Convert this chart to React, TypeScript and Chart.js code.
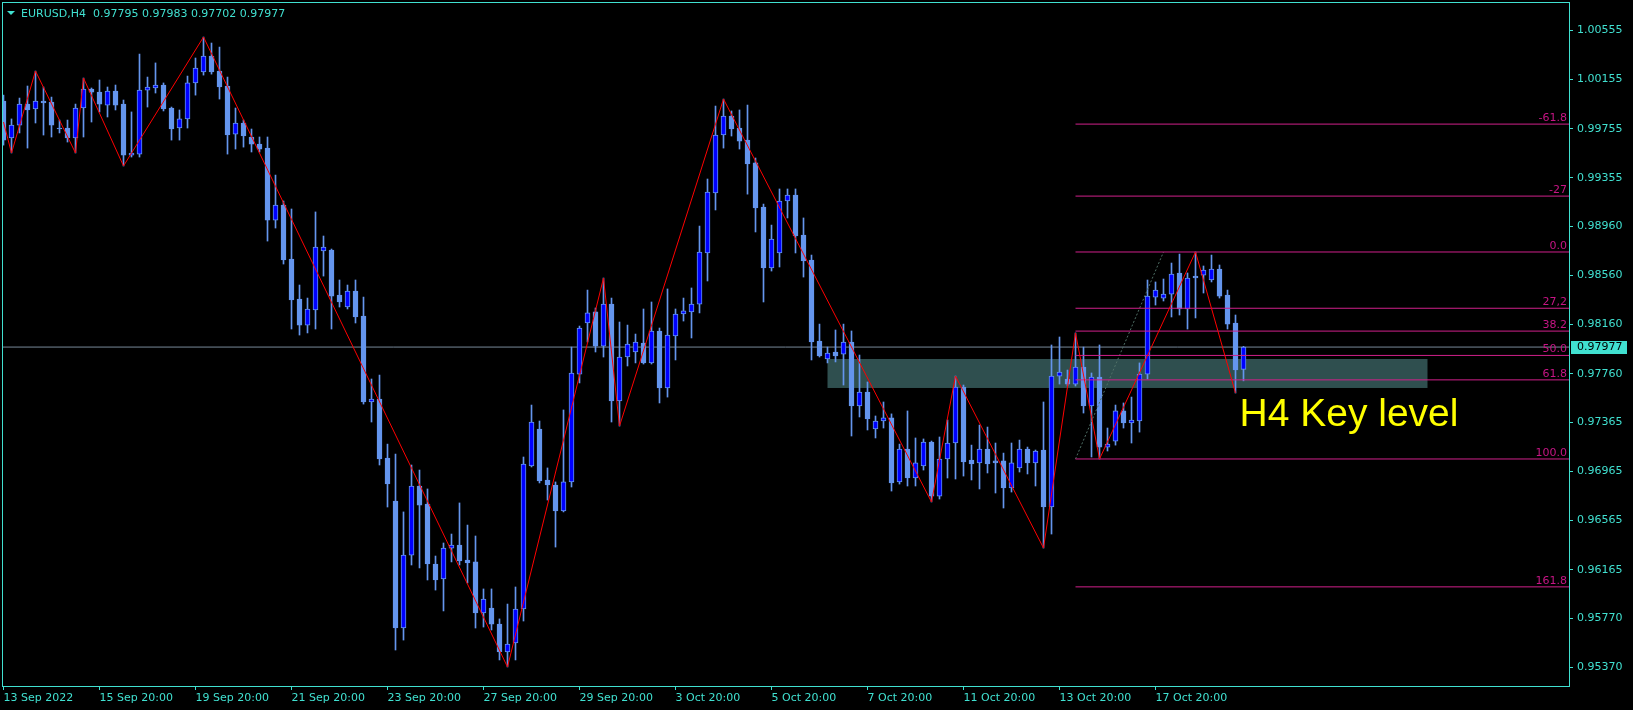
import React, { useEffect, useRef } from "react";
import { Chart, registerables } from "chart.js";
Chart.register(...registerables);

const W = 1633;
const H = 710;

// OHLC, one entry per H4 bar (bar index = position in array)
const opens = [
  0.9998, 0.99679, 0.99784, 0.99955, 0.99915, 0.9998, 0.99972, 0.9976, 0.9976, 0.99679,
  0.99923, 1.00078, 1.00053, 0.99947, 1.00061, 0.99955, 0.9954, 0.99548, 1.00069, 1.00086,
  1.0011, 0.99923, 0.9976, 0.99834, 1.00127, 1.00216, 1.00346, 1.00224, 1.00102, 0.99711,
  0.99801, 0.99687, 0.99629, 0.99597, 0.99011, 0.99133, 0.98694, 0.98368, 0.98156, 0.98279,
  0.98759, 0.98767, 0.984, 0.98303, 0.98433, 0.9823, 0.9753, 0.97554, 0.97074, 0.96724,
  0.9569, 0.96284, 0.96846, 0.96699, 0.96211, 0.96089, 0.96341, 0.96365, 0.96244, 0.96228,
  0.95813, 0.95853, 0.95722, 0.95495, 0.95568, 0.95845, 0.97009, 0.9731, 0.96895, 0.96854,
  0.96643, 0.96879, 0.97757, 0.98173, 0.98263, 0.97985, 0.98327, 0.97538, 0.97896, 0.97937,
  0.9801, 0.97848, 0.98108, 0.97644, 0.98067, 0.98246, 0.98263, 0.98327, 0.98743, 0.99231,
  0.99703, 0.99858, 0.9976, 0.99662, 0.99476, 0.99117, 0.98621, 0.98743, 0.99166, 0.99214,
  0.98889, 0.98686, 0.98026, 0.9788, 0.97937, 0.9792, 0.98018, 0.97497, 0.97611, 0.9731,
  0.97375, 0.974, 0.96879, 0.97147, 0.96911, 0.97009, 0.97204, 0.96764, 0.97066, 0.97196,
  0.97652, 0.97058, 0.97034, 0.97147, 0.9705, 0.9705, 0.9683, 0.96993, 0.97147, 0.97034,
  0.97139, 0.96675, 0.97741, 0.97717, 0.97676, 0.97815, 0.97497, 0.97733, 0.97163, 0.97212,
  0.97457, 0.97359, 0.97375, 0.97757, 0.98384, 0.98376, 0.98408, 0.9858, 0.98287, 0.98555,
  0.98563, 0.98523, 0.98612, 0.984, 0.98173, 0.97795,
];
const highs = [
  1.00028, 0.99834, 1.00004, 1.00102, 1.00224, 1.00094, 1.00012, 0.99825, 0.99825, 0.99955,
  1.00167, 1.00086, 1.00151, 1.00094, 1.0011, 0.99988, 0.99891, 1.00362, 1.00175, 1.0029,
  1.00127, 0.99931, 0.99907, 1.00183, 1.0033, 1.00501, 1.00452, 1.00419, 1.00175, 0.99923,
  0.99825, 0.99752, 0.99687, 0.99687, 0.99377, 0.99166, 0.99101, 0.98482, 0.98376, 0.99077,
  0.98881, 0.98775, 0.98523, 0.98482, 0.98523, 0.98384, 0.97717, 0.97749, 0.97187, 0.97106,
  0.96635, 0.97017, 0.96976, 0.96822, 0.96276, 0.96382, 0.96455, 0.96708, 0.96528, 0.96439,
  0.96008, 0.96008, 0.95764, 0.95885, 0.96024, 0.97082, 0.97505, 0.97375, 0.96993, 0.96879,
  0.97465, 0.97977, 0.98148, 0.98441, 0.98295, 0.98539, 0.98376, 0.98181, 0.98156, 0.98083,
  0.98287, 0.98344, 0.98132, 0.9845, 0.98287, 0.98376, 0.98458, 0.98962, 0.99345, 0.99939,
  0.99996, 0.99899, 0.99907, 0.99947, 0.99516, 0.99141, 0.9897, 0.99264, 0.99264, 0.99264,
  0.99028, 0.98726, 0.98164, 0.97977, 0.98116, 0.98164, 0.98108, 0.97912, 0.97693, 0.97416,
  0.9753, 0.97433, 0.97187, 0.97457, 0.97237, 0.97229, 0.97212, 0.97245, 0.97383, 0.97741,
  0.97668, 0.97179, 0.97342, 0.97326, 0.97196, 0.97114, 0.97196, 0.9722, 0.97163, 0.97139,
  0.9753, 0.97994, 0.98059, 0.9779, 0.98092, 0.97977, 0.97766, 0.97994, 0.97318, 0.97505,
  0.97522, 0.9757, 0.97848, 0.98523, 0.98507, 0.98531, 0.98661, 0.98734, 0.9858, 0.98751,
  0.98637, 0.98726, 0.98645, 0.98441, 0.98238, 0.97983,
];
const lows = [
  0.99621, 0.99557, 0.9972, 0.99597, 0.99801, 0.99703, 0.99687, 0.9972, 0.99646, 0.99557,
  0.99687, 0.99809, 0.99891, 0.9985, 0.99907, 0.99451, 0.99524, 0.99524, 0.99931, 1.00045,
  0.99899, 0.99662, 0.99662, 0.9976, 1.00028, 1.00191, 1.00199, 0.99996, 0.99548, 0.99589,
  0.99605, 0.99565, 0.99565, 0.9884, 0.98946, 0.98653, 0.98124, 0.98075, 0.98092, 0.98124,
  0.98555, 0.98124, 0.98303, 0.98287, 0.98173, 0.97513, 0.97367, 0.97017, 0.96675, 0.95511,
  0.95592, 0.96203, 0.96179, 0.96081, 0.95999, 0.95829, 0.96228, 0.96203, 0.96057, 0.9569,
  0.95698, 0.95674, 0.9543, 0.95373, 0.9543, 0.95747, 0.97001, 0.96871, 0.96732, 0.96349,
  0.96635, 0.96838, 0.97685, 0.98018, 0.97937, 0.97896, 0.97367, 0.97334, 0.97823, 0.97848,
  0.97839, 0.97839, 0.97522, 0.9757, 0.97872, 0.98189, 0.98051, 0.98255, 0.98515, 0.99093,
  0.99597, 0.99695, 0.99589, 0.99222, 0.98914, 0.98344, 0.98596, 0.98629, 0.99028, 0.98743,
  0.98547, 0.97872, 0.97896, 0.97848, 0.97856, 0.97668, 0.97253, 0.97408, 0.97302, 0.97237,
  0.97318, 0.96805, 0.96862, 0.96846, 0.96846, 0.96976, 0.96716, 0.9674, 0.96911, 0.96903,
  0.96927, 0.96895, 0.96822, 0.96952, 0.96789, 0.96667, 0.96797, 0.9696, 0.96944, 0.96846,
  0.96341, 0.96455, 0.97676, 0.9766, 0.9766, 0.9744, 0.97082, 0.97066, 0.97131, 0.97179,
  0.97318, 0.97196, 0.97285, 0.97717, 0.98319, 0.98352, 0.98222, 0.98238, 0.98124, 0.98214,
  0.98417, 0.98507, 0.98376, 0.98124, 0.97603, 0.97702,
];
const closes = [
  0.99662, 0.99784, 0.99955, 0.99907, 0.9998, 0.99964, 0.99784, 0.99752, 0.99679, 0.99923,
  1.00078, 1.00053, 0.99955, 1.00061, 0.99947, 0.9954, 0.99557, 1.00069, 1.00094, 1.0011,
  0.99915, 0.99752, 0.99834, 1.00127, 1.00249, 1.00346, 1.00216, 1.00094, 0.99703, 0.99801,
  0.99695, 0.99629, 0.99589, 0.99011, 0.99133, 0.98686, 0.9836, 0.98156, 0.98287, 0.98791,
  0.98791, 0.98392, 0.98344, 0.98433, 0.98222, 0.9753, 0.97554, 0.97066, 0.96862, 0.9569,
  0.96284, 0.96846, 0.96691, 0.96211, 0.96081, 0.96341, 0.96365, 0.96236, 0.9622, 0.95813,
  0.95926, 0.95722, 0.95495, 0.95559, 0.95845, 0.97025, 0.97367, 0.96887, 0.96854, 0.96643,
  0.96879, 0.97766, 0.98132, 0.98255, 0.97985, 0.98327, 0.97538, 0.97896, 0.98001, 0.98018,
  0.97848, 0.98108, 0.97644, 0.98075, 0.98246, 0.98271, 0.98327, 0.98751, 0.99239, 0.99703,
  0.99858, 0.99752, 0.99654, 0.99467, 0.99109, 0.98621, 0.98857, 0.99166, 0.99214, 0.98881,
  0.98678, 0.98018, 0.97904, 0.97929, 0.97904, 0.98018, 0.97497, 0.97611, 0.97392, 0.97375,
  0.974, 0.96871, 0.97147, 0.96911, 0.97034, 0.97204, 0.96764, 0.97066, 0.97196, 0.97652,
  0.97042, 0.97025, 0.97147, 0.97025, 0.97034, 0.9683, 0.97034, 0.97147, 0.97034, 0.97131,
  0.96675, 0.97741, 0.97774, 0.97676, 0.97815, 0.97497, 0.97733, 0.97163, 0.97187, 0.97457,
  0.97359, 0.97383, 0.97757, 0.98392, 0.98441, 0.98408, 0.98571, 0.98287, 0.98539, 0.98539,
  0.98604, 0.98612, 0.98392, 0.98164, 0.9779, 0.97977,
];

// ZigZag indicator vertices
const zigzagIndex = [0, 1, 4, 9, 10, 15, 25, 63, 75, 77, 90, 116, 119, 130, 134, 137, 149, 154];
const zigzagPrice = [
  0.99809, 0.99557, 1.00224, 0.99557, 1.00167, 0.99451, 1.00501, 0.95373, 0.98539, 0.97334,
  0.99996, 0.96716, 0.97741, 0.96341, 0.98092, 0.97066, 0.98751, 0.97603,
];

// Fibonacci levels
const fibLabels = ["-61.8", "-27", "0.0", "27,2", "38.2", "50.0", "61.8", "100.0", "161.8"];
const fibPrices = [0.99792, 0.99206, 0.98751, 0.98293, 0.98107, 0.97909, 0.9771, 0.97066, 0.96025];
const fibStartIndex = 134;
const fibDiagIndex = [134, 145];
const fibDiagPrice = [0.97066, 0.98751];

// Key level zone
const keyZoneIndex = [103, 178];
const keyZonePrice = [0.9788, 0.97644];
const keyText = "H4 Key level";
const keyTextPos = [154.5, 0.97334];

// Axes
const xTickIndex = [0, 12, 24, 36, 48, 60, 72, 84, 96, 108, 120, 132, 144];
const xTickLabels = [
  "13 Sep 2022", "15 Sep 20:00", "19 Sep 20:00", "21 Sep 20:00", "23 Sep 20:00",
  "27 Sep 20:00", "29 Sep 20:00", "3 Oct 20:00", "5 Oct 20:00", "7 Oct 20:00",
  "11 Oct 20:00", "13 Oct 20:00", "17 Oct 20:00",
];
const yTickValues = [
  1.00555, 1.00155, 0.99755, 0.99355, 0.9896, 0.9856, 0.9816, 0.9776, 0.97365, 0.96965,
  0.96565, 0.96165, 0.9577, 0.9537,
];
const yTickLabels = [
  "1.00555", "1.00155", "0.99755", "0.99355", "0.98960", "0.98560", "0.98160", "0.97760",
  "0.97365", "0.96965", "0.96565", "0.96165", "0.95770", "0.95370",
];
const xRange = [-0.1875, 195.6875];
const yRange = [0.95218, 1.00786];

const bidPrice = 0.97977;
const bidLabel = "0.97977";
const headerText = "EURUSD,H4  0.97795 0.97983 0.97702 0.97977";

const AXIS = "#40E0D0";
const WICK = "#6495ED";
const UP_FILL = "#0000FF";
const FIB_LINE = "#D0208A";
const FIB_TEXT = "#C71585";
const SMALL_FONT = '11px "DejaVu Sans", sans-serif';

const bgPlugin = {
  id: "bg",
  beforeDraw(chart: any) {
    const { ctx } = chart;
    ctx.save();
    ctx.fillStyle = "#000000";
    ctx.fillRect(0, 0, chart.width, chart.height);
    ctx.restore();
  },
};

const zonePlugin = {
  id: "zone",
  beforeDatasetsDraw(chart: any) {
    const { ctx, scales } = chart;
    const x0 = scales.x.getPixelForValue(keyZoneIndex[0]);
    const x1 = scales.x.getPixelForValue(keyZoneIndex[1]);
    const y0 = scales.y.getPixelForValue(keyZonePrice[0]);
    const y1 = scales.y.getPixelForValue(keyZonePrice[1]);
    ctx.save();
    ctx.fillStyle = "#2F4F4F";
    ctx.fillRect(x0, y0, x1 - x0, y1 - y0);
    ctx.restore();
  },
};

const overlayPlugin = {
  id: "overlay",
  afterDraw(chart: any) {
    const { ctx, chartArea: a, scales } = chart;
    const xs = scales.x;
    const ys = scales.y;
    ctx.save();
    // frame
    ctx.strokeStyle = AXIS;
    ctx.lineWidth = 1;
    ctx.strokeRect(a.left + 0.5, a.top + 0.5, a.right - a.left, a.bottom - a.top);

    // fib labels
    ctx.font = SMALL_FONT;
    ctx.fillStyle = FIB_TEXT;
    ctx.textAlign = "right";
    ctx.textBaseline = "alphabetic";
    fibPrices.forEach((p, k) => {
      const py = ys.getPixelForValue(p);
      ctx.fillText(fibLabels[k], a.right - 2, py - 3);
    });

    // price tag
    const by = ys.getPixelForValue(bidPrice);
    ctx.fillStyle = AXIS;
    ctx.fillRect(a.right + 2, Math.round(by) - 6, 56, 13);
    ctx.fillStyle = "#000000";
    ctx.textAlign = "left";
    ctx.textBaseline = "middle";
    ctx.fillText(bidLabel, a.right + 8, Math.round(by) + 0.5);

    // header
    ctx.fillStyle = AXIS;
    ctx.beginPath();
    ctx.moveTo(7, 11);
    ctx.lineTo(15, 11);
    ctx.lineTo(11, 15);
    ctx.closePath();
    ctx.fill();
    ctx.textBaseline = "alphabetic";
    ctx.fillText(headerText, 21, 17);

    // key level text
    ctx.font = '39px "Liberation Sans", Arial, sans-serif';
    ctx.fillStyle = "#FFFF00";
    ctx.fillText(keyText, xs.getPixelForValue(keyTextPos[0]), ys.getPixelForValue(keyTextPos[1]));
    ctx.restore();
  },
};

export default function App() {
  const ref = useRef<HTMLCanvasElement | null>(null);

  useEffect(() => {
    const canvas = ref.current;
    if (!canvas) return;

    const idx = opens.map((_, i) => i);
    const wickData = idx.map((i) => ({ x: i, y: [lows[i], highs[i]] }));
    const bodyData = idx.map((i) => ({ x: i, y: [opens[i], closes[i]] }));
    const bodyFill = idx.map((i) => (closes[i] > opens[i] ? UP_FILL : WICK));

    const lineBase = {
      type: "line" as const,
      pointRadius: 0,
      borderWidth: 1,
      fill: false,
      tension: 0,
    };

    const datasets: any[] = [
      {
        ...lineBase,
        label: "zigzag",
        data: zigzagIndex.map((i, k) => ({ x: i, y: zigzagPrice[k] })),
        borderColor: "#FF0000",
        order: 0,
      },
      ...fibPrices.map((p, k) => ({
        ...lineBase,
        label: "fib " + fibLabels[k],
        data: [
          { x: fibStartIndex, y: p },
          { x: xRange[1], y: p },
        ],
        borderColor: FIB_LINE,
        order: 1,
      })),
      {
        ...lineBase,
        label: "fib trend",
        data: fibDiagIndex.map((i, k) => ({ x: i, y: fibDiagPrice[k] })),
        borderColor: "#4F6F66",
        borderDash: [2, 2],
        order: 1,
      },
      {
        type: "bar",
        label: "bodies",
        data: bodyData,
        backgroundColor: bodyFill,
        borderColor: WICK,
        borderWidth: 1,
        borderSkipped: false,
        barThickness: 5,
        minBarLength: 1,
        grouped: false,
        order: 2,
      },
      {
        type: "bar",
        label: "wicks",
        data: wickData,
        backgroundColor: WICK,
        borderWidth: 0,
        barThickness: 1,
        grouped: false,
        order: 3,
      },
      {
        ...lineBase,
        label: "bid",
        data: [
          { x: xRange[0], y: bidPrice },
          { x: xRange[1], y: bidPrice },
        ],
        borderColor: "#778899",
        order: 4,
      },
    ];

    const chart = new Chart(canvas, {
      type: "bar",
      data: { datasets },
      options: {
        animation: false,
        responsive: false,
        devicePixelRatio: 1,
        events: [],
        layout: { padding: { left: 2, top: 2, right: 0, bottom: 0 } },
        plugins: {
          legend: { display: false },
          tooltip: { enabled: false },
        },
        scales: {
          x: {
            type: "linear",
            min: xRange[0],
            max: xRange[1],
            offset: false,
            position: "bottom",
            border: { display: false },
            grid: {
              display: true,
              offset: false,
              drawOnChartArea: false,
              drawTicks: true,
              tickLength: 4,
              color: AXIS,
            },
            ticks: {
              autoSkip: false,
              maxRotation: 0,
              minRotation: 0,
              align: "start",
              padding: 2,
              color: AXIS,
              font: { family: "DejaVu Sans", size: 11 },
              callback: (_v: any, i: number) => xTickLabels[i],
            },
            afterBuildTicks: (scale: any) => {
              scale.ticks = xTickIndex.map((v) => ({ value: v }));
            },
            afterFit: (scale: any) => {
              scale.height = 24;
              scale.paddingLeft = 0;
              scale.paddingRight = 0;
            },
          },
          y: {
            type: "linear",
            position: "right",
            min: yRange[0],
            max: yRange[1],
            border: { display: false },
            grid: {
              display: true,
              drawOnChartArea: false,
              drawTicks: true,
              tickLength: 4,
              color: AXIS,
            },
            ticks: {
              autoSkip: false,
              padding: 4,
              color: AXIS,
              font: { family: "DejaVu Sans", size: 11 },
              callback: (_v: any, i: number) => yTickLabels[i],
            },
            afterBuildTicks: (scale: any) => {
              scale.ticks = yTickValues.map((v) => ({ value: v }));
            },
            afterFit: (scale: any) => {
              scale.width = 64;
              scale.paddingTop = 0;
              scale.paddingBottom = 0;
            },
          },
        },
      } as any,
      plugins: [bgPlugin, zonePlugin, overlayPlugin],
    });

    return () => chart.destroy();
  }, []);

  return (
    <div
      style={{
        position: "fixed",
        left: 0,
        top: 0,
        width: W,
        height: H,
        background: "#000",
        overflow: "hidden",
      }}
    >
      <canvas ref={ref} width={W} height={H} style={{ display: "block", width: W, height: H }} />
    </div>
  );
}
